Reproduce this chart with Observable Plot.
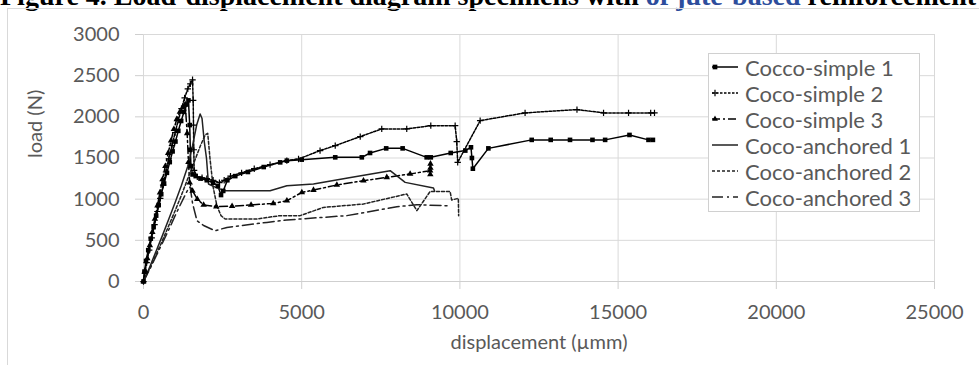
<!DOCTYPE html>
<html>
<head>
<meta charset="utf-8">
<script src="https://cdn.jsdelivr.net/npm/d3@7"></script>
<script src="https://cdn.jsdelivr.net/npm/@observablehq/plot@0.6"></script>
<style>
  body { margin: 0; background: #fff; }
  #wrap { position: relative; width: 979px; height: 365px; overflow: hidden; background: #fff; }
  #title { position: absolute; left: 0; top: -18px; white-space: nowrap; font: bold 28px "Liberation Serif", serif; line-height: 28px; color: #000; }
  #title .link { color: #2d4d9c; }
  #frame { position: absolute; left: 7px; top: 8px; width: 990px; height: 400px; border: 1px solid #d9d9d9; box-sizing: border-box; }
  #chart { position: absolute; left: 0; top: 0; }
  #legend { position: absolute; left: 708px; top: 53px; width: 212px; height: 159px; border: 1px solid #d0d0d0; background: #fff; box-sizing: border-box; font-family: Lato, sans-serif; font-size: 22px; color: #595959; }
  #legend .row { position: absolute; left: 3px; height: 26px; display: flex; align-items: center; white-space: nowrap; }
  #legend svg { display: block; margin-right: 7px; }
</style>
</head>
<body>
<div id="wrap">
  <div id="title">Figure 4. Load-displacement diagram specimens with <span class="link">of jute-based</span> reinforcement</div>
  <div id="frame"></div>
  <div id="chart"></div>
  <div id="legend"></div>
</div>
<script>
const xTicks = [0, 5000, 10000, 15000, 20000, 25000];
const yTicks = [0, 500, 1000, 1500, 2000, 2500, 3000];
const seriesNames = ["Cocco-simple 1", "Coco-simple 2", "Coco-simple 3", "Coco-anchored 1", "Coco-anchored 2", "Coco-anchored 3"];

const cocoSimple1 = [[0,0],[30,120],[80,250],[150,380],[230,520],[320,660],[400,800],[480,930],[560,1060],[650,1190],[740,1320],[830,1450],[920,1580],[1010,1700],[1100,1830],[1190,1950],[1280,2060],[1370,2150],[1420,2200],[1460,1900],[1480,1600],[1500,1400],[1550,1300],[1650,1280],[1800,1250],[2000,1230],[2200,1200],[2350,1160],[2450,1050],[2520,1100],[2650,1230],[2900,1280],[3300,1330],[3800,1390],[4320,1447],[4530,1468],[5000,1480],[6060,1508],[6900,1508],[7160,1561],[7670,1617],[8190,1617],[8950,1508],[9080,1508],[9710,1561],[10170,1590],[10350,1630],[10380,1500],[10410,1370],[10900,1617],[12270,1720],[12870,1720],[13480,1720],[14190,1720],[14590,1720],[15360,1780],[15960,1720],[16100,1720]];
const cocoSimple2 = [[0,0],[40,100],[100,230],[180,380],[260,530],[350,690],[440,850],[530,1010],[620,1170],[710,1330],[800,1490],[900,1650],[1000,1810],[1100,1960],[1200,2100],[1300,2230],[1400,2340],[1480,2400],[1550,2450],[1570,2200],[1580,1900],[1590,1600],[1600,1350],[1700,1270],[1850,1260],[2000,1250],[2200,1230],[2400,1200],[2550,1230],[2750,1280],[3100,1320],[3500,1370],[4000,1420],[4530,1468],[4900,1488],[5580,1590],[6060,1650],[6850,1760],[7530,1853],[8320,1853],[9080,1893],[9850,1893],[9900,1700],[9930,1447],[10640,1954],[12060,2048],[13700,2088],[14540,2048],[15330,2048],[16030,2048],[16150,2048]];
const cocoSimple3 = [[0,0],[50,130],[120,280],[200,440],[280,600],[360,760],[440,920],[520,1080],[600,1240],[690,1400],[780,1560],[870,1710],[960,1850],[1050,1970],[1150,2060],[1250,2120],[1320,2150],[1380,1800],[1420,1450],[1460,1200],[1550,1100],[1700,1000],[1900,930],[2300,910],[2800,915],[3400,930],[4100,948],[4532,981],[5005,1082],[5372,1111],[6111,1172],[6952,1224],[7690,1265],[8427,1306],[9060,1346],[9065,1300],[9068,1380],[9070,1430]];
const cocoAnchored1 = [[0,0],[200,180],[400,370],[600,560],[800,760],[1000,960],[1200,1170],[1400,1400],[1550,1650],[1680,1900],[1790,2035],[1850,1980],[1920,1700],[1990,1500],[2054,1184],[2300,1140],[2580,1103],[3200,1103],[4000,1103],[4530,1164],[5372,1184],[6500,1260],[7796,1346],[8270,1204],[9165,1136],[9200,1100]];
const cocoAnchored2 = [[0,0],[200,160],[400,330],[600,500],[800,680],[1000,860],[1200,1050],[1400,1250],[1600,1450],[1800,1650],[1950,1780],[2030,1800],[2100,1500],[2200,1150],[2320,920],[2450,800],[2580,759],[3580,759],[4320,800],[4950,800],[5690,900],[6950,941],[8320,1063],[8640,860],[9060,1094],[9690,1094],[9740,990],[9950,1010],[9960,800]];
const cocoAnchored3 = [[0,0],[200,150],[400,310],[600,470],[800,630],[1000,800],[1200,960],[1380,1100],[1475,1150],[1550,950],[1690,738],[1900,680],[2265,616],[2636,657],[3900,718],[4532,747],[4952,759],[6427,800],[8008,908],[8640,933],[9587,920],[9700,930]];

const seriesData = [cocoSimple1, cocoSimple2, cocoSimple3, cocoAnchored1, cocoAnchored2, cocoAnchored3];
const styles = [
  {stroke: "#000", dash: null, symbol: "square"},
  {stroke: "#000", dash: "2.5,1.5", symbol: "plus"},
  {stroke: "#000", dash: "8,3,2,3", symbol: "triangle"},
  {stroke: "#222", dash: null, symbol: null},
  {stroke: "#222", dash: "3,2", symbol: null},
  {stroke: "#222", dash: "11,4,2,4", symbol: null}
];

const X = d => d[0], Y = d => d[1];
const marks = [
  Plot.gridX(xTicks, {stroke: "#d9d9d9", strokeOpacity: 1}),
  Plot.gridY(yTicks, {stroke: "#d9d9d9", strokeOpacity: 1}),
  Plot.ruleY([0], {stroke: "#cfcfcf"}),
  Plot.axisX(xTicks, {tickSize: 8, tickPadding: 15, stroke: "#cfcfcf", fill: "#595959", tickFormat: d => String(d), label: null, fontSize: 20}),
  Plot.axisY(yTicks, {tickSize: 8, tickPadding: 16, stroke: "#cfcfcf", fill: "#595959", tickFormat: d => String(d), label: null, fontSize: 20}),
  Plot.text(["displacement (µmm)"], {frameAnchor: "bottom", dy: 67, fill: "#595959", fontSize: 20}),
  Plot.text(["load (N)"], {frameAnchor: "left", rotate: -90, dx: -108, fill: "#595959", fontSize: 20})
];
seriesData.forEach((s, i) => {
  const st = styles[i];
  marks.push(Plot.line(s, {x: X, y: Y, stroke: st.stroke, strokeWidth: 1.5, strokeDasharray: st.dash}));
});
seriesData.forEach((s, i) => {
  const st = styles[i];
  if (st.symbol === "square") marks.push(Plot.dot(s, {x: X, y: Y, symbol: "square", r: 2.6, fill: "#000", stroke: null}));
  else if (st.symbol === "plus") marks.push(Plot.dot(s, {x: X, y: Y, symbol: "plus", r: 2.2, stroke: "#000", strokeWidth: 1.2}));
  else if (st.symbol === "triangle") marks.push(Plot.dot(s, {x: X, y: Y, symbol: "triangle", r: 2.4, fill: "#000", stroke: null}));
});

const chart = Plot.plot({
  width: 979, height: 365,
  marginLeft: 143, marginRight: 45, marginTop: 34, marginBottom: 84,
  x: {domain: [0, 25000]},
  y: {domain: [0, 3000]},
  style: {background: "none", fontFamily: "Lato, sans-serif", fontSize: "20px"},
  marks
});
document.getElementById("chart").appendChild(chart);

// legend
const legend = document.getElementById("legend");
const ns = "http://www.w3.org/2000/svg";
seriesNames.forEach((name, i) => {
  const st = styles[i];
  const row = document.createElement("div");
  row.className = "row";
  row.style.top = (0 + i * 26) + "px";
  const svg = document.createElementNS(ns, "svg");
  svg.setAttribute("width", 26); svg.setAttribute("height", 20);
  const ln = document.createElementNS(ns, "line");
  ln.setAttribute("x1", 0); ln.setAttribute("x2", 26); ln.setAttribute("y1", 10); ln.setAttribute("y2", 10);
  ln.setAttribute("stroke", st.stroke); ln.setAttribute("stroke-width", 1.5);
  if (st.dash) ln.setAttribute("stroke-dasharray", st.dash);
  svg.appendChild(ln);
  if (st.symbol) {
    const p = document.createElementNS(ns, "path");
    const sym = st.symbol === "square" ? d3.symbolSquare : st.symbol === "plus" ? d3.symbolPlus : d3.symbolTriangle;
    p.setAttribute("d", d3.symbol(sym, st.symbol === "square" ? 22 : 15)());
    p.setAttribute("transform", "translate(3,10)");
    if (st.symbol === "plus") { p.setAttribute("fill", "none"); p.setAttribute("stroke", "#000"); p.setAttribute("stroke-width", 1.2); }
    else p.setAttribute("fill", "#000");
    svg.appendChild(p);
  }
  row.appendChild(svg);
  const t = document.createElement("span");
  t.textContent = name;
  row.appendChild(t);
  legend.appendChild(row);
});
</script>
</body>
</html>
